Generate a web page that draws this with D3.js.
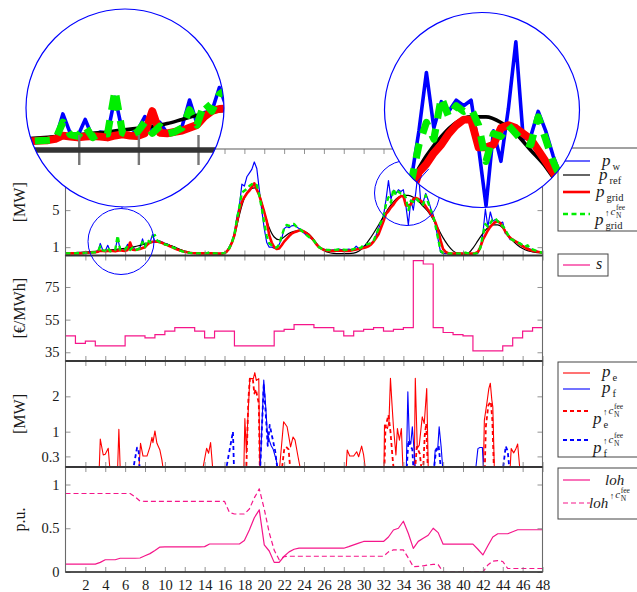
<!DOCTYPE html>
<html><head><meta charset="utf-8">
<script src="https://cdn.jsdelivr.net/npm/d3@7"></script>
<style>
body{margin:0;background:#fff}
svg{display:block}
text{font-family:"Liberation Serif","DejaVu Serif",serif;fill:#1a1a1a}
</style>
</head><body>
<svg id="fig" width="637" height="592"></svg>
<script>
// ---------- data ----------
const hourTicks = d3.range(2, 49, 2);

// wind power p_w [MW], quarter-hour resolution (t = 0, 0.25, ..., 48)
const pW = [
 .35,.33,.35,.34, .33,.36,.34,.35, .38,.40,.42,.45, .45,.48,1.40,.70,
 .60,1.20,.55,.75, .70,2.00,.75,.65, .80,1.30,.75,1.10, .70,.80,.95,1.90,
 1.05,1.45,1.50,2.35, 1.60,1.75,1.65,1.55, 1.40,1.35,1.20,1.10, 1.00,.85,.68,.60,
 .50,.45,.40,.37, .35,.34,.33,.33, .33,.34,.38,.34, .33,.33,.34,.33,
 .40,.60,1.10,1.60, 2.60,4.30,5.50,7.80, 7.60,8.60,9.00,9.40, 10.2,9.50,7.20,5.00,
 3.00,1.50,1.00,1.00, .90,.85,1.30,1.90, 3.00,3.20,3.10,3.30, 3.35,3.20,3.00,2.90,
 2.50,2.30,2.10,1.90, 1.70,1.30,1.00,.85, .80,.70,.75,.68, .70,.72,.78,.74,
 .75,.72,.78,.74, .80,1.10,.85,.95, 1.10,1.20,1.30,1.40, 1.70,2.30,3.00,3.70,
 4.40,6.10,8.20,6.20, 7.15,6.80,7.20,7.00, 7.20,5.50,3.40,6.10, 5.00,6.90,9.30,5.80,
 5.90,6.80,6.10,5.20, 4.50,3.30,1.80,.45, .32,.30,.30,.31, .30,.31,.30,.30,
 .33,.36,.33,.31, .30,.30,.35,.95, 2.45,5.10,3.20,4.80, 3.80,4.00,3.70,3.60,
 3.70,2.50,2.30,1.80, 1.90,1.60,1.50,1.40, 1.20,1.00,.90,.80, .75,.65,.55,.45,
 .40];

// reference power p_ref [MW], half-hour resolution (t = 0, 0.5, ..., 48)
const pRef = [
 .40,.40, .42,.45, .48,.52, .56,.60, .65,.70, .75,.82, .88,.95, 1.05,1.20,
 1.35,1.47, 1.53,1.50, 1.40,1.20, 1.00,.78, .58,.45, .37,.33, .31,.30, .30,.31,
 .40,.90, 2.20,4.50, 6.30,7.20, 7.40,6.70, 4.80,3.10, 2.10,1.80, 2.10,2.50, 2.70,2.80,
 2.70,2.40, 1.80,1.10, .65,.42, .33,.30, .30,.30, .35,.55, 1.00,1.70, 2.50,3.40,
 4.30,5.20, 5.90,6.40, 6.60,6.60, 6.40,6.00, 5.40,4.80, 4.00,3.00, 2.00,1.20, .60,.35,
 .30,.35, .90,1.70, 2.50,3.10, 3.40,3.40, 3.10,2.40, 1.70,1.20, .85,.62, .50,.42,
 .40];

// grid power p_grid [MW], quarter-hour resolution
const pGrid = [
 .33,.33,.33,.33, .33,.33,.33,.34, .38,.40,.42,.44, .45,.50,.62,.58,
 .55,.58,.60,.58, .55,.62,.66,.62, .60,.70,1.50,.72, .70,.75,.80,.90,
 1.00,1.30,1.50,1.58, 1.60,1.58,1.55,1.45, 1.30,1.22,1.10,1.00, .85,.75,.65,.58,
 .50,.45,.40,.37, .35,.34,.33,.33, .33,.33,.33,.33, .33,.32,.30,.30,
 .35,.55,.90,1.50, 2.30,3.70,5.00,5.90, 6.40,6.80,7.10,7.50, 7.90,7.20,6.60,5.70,
 4.80,3.80,2.30,1.50, 1.00,.80,.85,1.20, 1.60,1.90,2.20,2.45, 2.60,2.70,2.80,2.80,
 2.70,2.50,2.30,2.00, 1.70,1.30,1.00,.85, .70,.65,.60,.60, .60,.62,.65,.62,
 .60,.60,.60,.65, .70,.75,.80,.85, .90,1.00,1.10,1.30, 1.60,2.00,2.40,3.10,
 3.80,4.60,4.90,5.30, 5.60,6.00,6.30,6.50, 6.50,5.50,5.50,5.60, 6.20,6.30,6.20,6.00,
 5.80,5.40,5.00,4.60, 4.20,3.60,2.80,1.70, .80,.50,.35,.32, .30,.30,.30,.30,
 .30,.30,.30,.30, .30,.35,.50,1.00, 1.80,2.30,2.80,3.20, 3.50,3.70,3.80,3.60,
 3.20,2.70,2.30,2.00, 1.80,1.65,1.50,1.30, 1.10,.95,.80,.70, .60,.55,.50,.45,
 .40];

// grid power with fee, quarter-hour resolution
const pGridFee = [
 .34,.33,.34,.34, .33,.35,.34,.35, .38,.40,.42,.44, .45,.47,1.10,.65,
 .60,.95,.55,.70, .68,2.25,.72,.62, .75,1.10,.70,.95, .68,.75,.90,1.55,
 1.00,1.80,1.50,2.10, 2.30,1.70,1.55,1.45, 1.30,1.25,1.10,1.00, .90,.80,.65,.55,
 .48,.42,.38,.36, .34,.33,.33,.33, .33,.36,.45,.36, .33,.33,.34,.33,
 .38,.55,.95,1.50, 2.40,4.00,5.40,6.90, 7.10,7.30,7.60,7.80, 7.90,7.70,6.60,5.20,
 3.60,2.20,1.40,1.20, 1.00,.95,1.30,2.20, 3.00,3.40,3.30,3.50, 3.50,3.20,3.00,2.80,
 2.50,2.30,2.10,1.90, 1.70,1.30,1.00,.85, .75,.72,.70,.68, .70,.72,.75,.72,
 .72,.70,.75,.72, .78,.95,.85,.95, 1.25,1.30,1.35,1.45, 1.70,2.30,3.00,3.70,
 4.30,5.60,6.40,5.80, 7.30,6.60,7.00,6.80, 6.90,6.30,5.00,6.00, 5.90,6.30,6.00,5.70,
 5.60,6.60,5.80,5.00, 4.40,3.20,1.90,.60, .35,.30,.30,.31, .30,.31,.30,.30,
 .33,.40,.33,.31, .30,.30,.38,.95, 2.30,3.50,3.20,3.60, 4.00,4.10,3.80,3.40,
 3.30,2.90,2.40,1.90, 1.80,1.60,1.50,1.40, 1.20,1.05,1.20,.85, .75,.65,.55,.45,
 .40];

// spot price s [€/MWh], hourly (hour 0 .. 47)
const price = [
 45.0,40.5,41.8,38.9,38.9,38.9,45.0,45.0,43.8,45.8,47.9,50.1,
 50.1,47.9,43.8,47.9,47.9,38.9,38.9,38.9,38.9,47.9,49.0,52.0,
 52.0,50.1,50.1,47.9,45.0,47.9,49.0,50.1,47.9,49.0,50.1,91.2,
 89.1,50.1,47.1,45.8,45.0,35.8,35.8,35.8,38.9,43.8,47.9,50.1];

// storage powers [hour, MW]
const pE = [[0,0],[3.4,0],[3.5,.79],[3.8,.34],[4.0,.36],[4.3,.53],[4.45,0],
 [5.25,0],[5.37,1.07],[5.5,0],
 [7.4,0],[7.55,.67],[7.8,.31],[8.2,.31],[8.5,.57],[8.7,.84],[8.8,.69],[9.0,1.02],[9.2,.67],[9.5,.48],[9.7,.2],[9.8,0],
 [13.85,0],[14.2,.53],[14.4,.39],[14.6,.69],[14.8,0],
 [17.95,0],[18.05,1.37],[18.2,.4],[18.35,1.37],[18.55,2.5],[18.9,2.5],[19.05,2.67],[19.2,2.45],[19.45,2.5],[19.55,0],
 [21.55,0],[21.95,1.28],[22.3,1.14],[22.65,.57],[22.9,.85],[23.1,.76],[23.4,.29],[23.6,0],
 [28.25,0],[28.35,.48],[28.6,.31],[29.0,.31],[29.3,.43],[29.5,.29],[29.8,.59],[30.0,.34],[30.15,0],
 [32.05,0],[32.1,1.19],[32.4,1.09],[32.55,1.28],[32.7,2.51],[32.85,1.8],[33.0,1.14],[33.25,.34],[33.4,1.09],[33.6,.76],[33.8,1.09],[33.95,0],
 [35.1,0],[35.2,2.51],[35.4,.53],[35.6,.62],[35.9,1.42],[36.1,1.23],[36.35,2.22],[36.5,0],
 [42.05,0],[42.15,1.33],[42.4,1.8],[42.6,2.22],[42.75,2.37],[42.9,1.9],[43.0,1.7],[43.15,0],
 [44.75,0],[44.85,.52],[45.1,.4],[45.3,.5],[45.5,.65],[45.7,0],[48,0]];

const pF = [[0,0],[19.6,0],[19.95,2.46],[20.15,1.7],[20.3,1.0],[20.5,.76],[20.7,.6],[20.9,.5],[21.2,.2],[21.35,0],
 [34.3,0],[34.45,2.13],[34.6,.76],[34.75,.66],[34.9,1.14],[35.05,.57],[35.2,0],
 [37.1,0],[37.2,.48],[37.45,.48],[37.6,1.14],[37.8,.57],[37.95,0],
 [41.3,0],[41.5,.52],[41.7,.55],[41.95,.55],[42.05,0],[48,0]];

const pEFee = [[0,0],[18.2,0],[18.4,1.9],[18.55,2.5],[18.85,2.5],[19.0,2.08],[19.15,2.2],[19.45,1.8],[19.55,0],
 [21.8,0],[22.0,.48],[22.2,.57],[22.45,.5],[22.6,0],
 [32.1,0],[32.2,1.14],[32.5,1.47],[32.7,1.0],[32.9,.3],[33.0,0],
 [35.2,0],[35.35,.57],[35.65,.38],[35.8,0],[36.0,0],[36.15,.9],[36.3,1.23],[36.45,0],
 [42.2,0],[42.3,1.14],[42.55,1.75],[42.8,1.85],[42.95,1.33],[43.1,0],[48,0]];

const pFFee = [[0,0],[6.85,0],[7.2,.55],[7.35,.5],[7.45,0],
 [16.2,0],[16.85,1.0],[16.95,0],
 [19.6,0],[19.95,2.35],[20.15,1.5],[20.35,.6],[20.55,1.19],[20.8,.85],[21.1,.45],[21.3,0],
 [34.35,0],[34.5,.75],[34.7,.6],[34.9,.5],[35.0,0],
 [37.1,0],[37.3,.5],[37.55,.6],[37.75,0],
 [44.05,0],[44.3,.59],[44.5,.45],[44.65,0],[48,0]];

// level of health [p.u.], half-hour resolution
const loh = [
 .09,.09, .09,.09, .09,.09, .09,.11, .14,.14, .14,.157, .157,.157, .157,.16,
 .185,.21, .245,.285, .287,.287, .287,.287, .287,.287, .287,.287, .29,.32, .32,.32,
 .32,.32, .32,.32, .36,.48, .62,.71, .31,.24, .11,.11, .18,.23, .26,.272,
 .272,.272, .272,.272, .272,.272, .272,.272, .272,.29, .31,.33, .349,.349, .349,.349,
 .349,.40, .48,.50, .58,.44, .27,.35, .385,.42, .50,.45, .318,.318, .318,.318,
 .318,.318, .318,.26, .195,.30, .40,.437, .437,.437, .46,.483, .483,.483, .483,.483,
 .483];
const lohFee = [
 .897,.897, .897,.897, .897,.897, .897,.897, .897,.897, .897,.897, .897,.897, .86,.81,
 .808,.808, .808,.808, .808,.808, .808,.808, .808,.808, .808,.808, .808,.808, .808,.808,
 .808,.68, .663,.663, .663,.72, .847,.95, .72,.45, .25,.14, .176,.18, .18,.18,
 .18,.18, .18,.18, .18,.18, .18,.18, .18,.18, .18,.18, .18,.18, .18,.18,
 .18,.23, .253,.253, .253,.16, .061,.065, .07,.08, .088,.085, 0,0, 0,0,
 0,0, 0,0, 0,.08, .125,.13, .12,.04, .04,.04, .04,.04, .04,.04,
 .04];

// ---------- layout ----------
const svg = d3.select("#fig");
const defs = svg.append("defs");
const chart = svg.append("g").attr("id", "chart");
chart.append("rect").attr("width", 637).attr("height", 592).attr("fill", "#fff");

const x = d3.scaleLinear().domain([0, 48]).range([65.5, 542.5]);
const X0 = x(0), X1 = x(48);

const panels = [
  {top: 149, bottom: 255.5, domain: [0.1, 11.6], ticks: [1, 5], label: "[MW]"},
  {top: 255.5, bottom: 361, domain: [29.65, 94.3], ticks: [35, 55, 75], label: "[€/MWh]"},
  {top: 361, bottom: 467, domain: [0, 3], ticks: [0.3, 1, 2], label: "[MW]"},
  {top: 467, bottom: 572, domain: [0, 1.2], ticks: [0, 0.5, 1], label: "p.u."}
];

const COL = {blue: "#0000ff", red: "#ff0000", green: "#00ee00", mag: "#f5168a"};

panels.forEach((p, i) => {
  p.y = d3.scaleLinear().domain(p.domain).range([p.bottom, p.top]);
  defs.append("clipPath").attr("id", "clip" + i)
    .append("rect").attr("x", X0).attr("y", p.top).attr("width", X1 - X0).attr("height", p.bottom - p.top);
  p.g = chart.append("g");
  p.data = p.g.append("g").attr("clip-path", `url(#clip${i})`);
});

function styleAxis(g) {
  g.select(".domain").remove();
  g.selectAll(".tick line").attr("stroke", "#777").attr("stroke-width", 0.8);
  g.selectAll(".tick text").attr("font-family", "Liberation Serif, serif").attr("font-size", 14.5).attr("fill", "#1a1a1a");
}

panels.forEach((p, i) => {
  const last = i === panels.length - 1;
  p.g.append("g").attr("transform", `translate(0,${p.bottom})`)
    .call(d3.axisBottom(x).tickValues(hourTicks).tickSize(-5).tickPadding(8)
      .tickFormat(last ? d3.format("d") : () => ""))
    .call(styleAxis);
  p.g.append("g").attr("transform", `translate(0,${p.top})`)
    .call(d3.axisTop(x).tickValues(hourTicks).tickSize(-5).tickFormat(() => ""))
    .call(styleAxis);
  p.g.append("g").attr("transform", `translate(${X0},0)`)
    .call(d3.axisLeft(p.y).tickValues(p.ticks).tickSize(-5).tickPadding(6).tickFormat(d => String(d)))
    .call(styleAxis);
  p.g.append("g").attr("transform", `translate(${X1},0)`)
    .call(d3.axisRight(p.y).tickValues(p.ticks).tickSize(-5).tickFormat(() => ""))
    .call(styleAxis);
  p.g.append("text")
    .attr("transform", `translate(25,${(p.top + p.bottom) / 2}) rotate(-90)`)
    .attr("text-anchor", "middle").attr("font-size", 16).text(p.label);
});

// ---------- series ----------
const qT = i => i / 4, hT = i => i / 2;
function drawSeries(p, vals, tOf, color, width, dash, curve) {
  const line = d3.line().x((d, i) => x(tOf(i))).y(d => p.y(d)).curve(curve || d3.curveLinear);
  p.data.append("path").datum(vals).attr("d", line)
    .attr("fill", "none").attr("stroke", color).attr("stroke-width", width)
    .attr("stroke-linejoin", "round").attr("stroke-dasharray", dash || null);
}
function drawPairs(p, pts, color, width, dash) {
  const line = d3.line().x(d => x(d[0])).y(d => p.y(d[1]));
  p.data.append("path").datum(pts).attr("d", line)
    .attr("fill", "none").attr("stroke", color).attr("stroke-width", width)
    .attr("stroke-linejoin", "round").attr("stroke-dasharray", dash || null);
}

const P1 = panels[0], P2 = panels[1], P3 = panels[2], P4 = panels[3];
drawSeries(P1, pW, qT, COL.blue, 1.2);
drawSeries(P1, pRef, hT, "#000", 1.2, null, d3.curveMonotoneX);
drawSeries(P1, pGrid, qT, COL.red, 2.6);
drawSeries(P1, pGridFee, qT, COL.green, 2.4, "5,3.5");

const priceSteps = price.map((v, h) => [h, v]).concat([[48, price[price.length - 1]]]);
P2.data.append("path").datum(priceSteps)
  .attr("d", d3.line().x(d => x(d[0])).y(d => P2.y(d[1])).curve(d3.curveStepAfter))
  .attr("fill", "none").attr("stroke", COL.mag).attr("stroke-width", 1.2);

drawPairs(P3, pE, COL.red, 1.1);
drawPairs(P3, pF, COL.blue, 1.1);
drawPairs(P3, pEFee, COL.red, 1.8, "4,3");
drawPairs(P3, pFFee, COL.blue, 1.8, "4,3");

drawSeries(P4, loh, hT, COL.mag, 1.2);
drawSeries(P4, lohFee, hT, COL.mag, 1.2, "5,3");

// panel frames: light sides, dark horizontal rules
panels.forEach(p => {
  p.g.append("rect").attr("x", X0).attr("y", p.top).attr("width", X1 - X0).attr("height", p.bottom - p.top)
    .attr("fill", "none").attr("stroke", "#6a6a6a").attr("stroke-width", 1.1);
});
panels.forEach((p, i) => {
  [p.top, p.bottom].forEach((yy, k) => {
    if (i === 0 && k === 0) return;
    chart.append("line").attr("x1", X0).attr("x2", X1).attr("y1", yy).attr("y2", yy)
      .attr("stroke", "#333").attr("stroke-width", 1.6);
  });
});

// ---------- legends ----------
const leg = svg.append("g");
function box(x0, y0, x1, y1) {
  leg.append("rect").attr("x", x0).attr("y", y0).attr("width", x1 - x0).attr("height", y1 - y0)
    .attr("fill", "#fff").attr("stroke", "#444").attr("stroke-width", 1);
}
function sample(y, color, width, dash) {
  leg.append("line").attr("x1", 563).attr("x2", 590).attr("y1", y).attr("y2", y)
    .attr("stroke", color).attr("stroke-width", width).attr("stroke-dasharray", dash || null);
}
function txt(xp, yp, s, size, italic) {
  return leg.append("text").attr("x", xp).attr("y", yp).attr("font-size", size)
    .attr("font-style", italic ? "italic" : "normal").text(s);
}
// symbol with an optional subscript and an optional "↑ c_N^fee" superscript
function symbol(xp, base, name, size, sub, fee) {
  const t = txt(xp, base, name, size, true);
  const w = t.node().getComputedTextLength();
  const xs = xp + w + 1;
  if (sub) txt(xs + 1, base + 4, sub, 10.5, false);
  if (fee) {
    txt(xs + 0.5, base - 9, "↑", 9, false);
    txt(xs + 6, base - 10, "c", 11, true);
    txt(xs + 11.5, base - 15, "fee", 7.5, false);
    txt(xs + 11.5, base - 7.5, "N", 7.5, false);
  }
}

box(558, 148, 645, 231);
sample(161, COL.blue, 1.2);
symbol(602, 166, "p", 17, "w");
sample(175, "#000", 1.2);
symbol(599, 180, "p", 17, "ref");
sample(192, COL.red, 2.6);
symbol(596, 197, "p", 17, "grid");
sample(214, COL.green, 2.4, "5,3.5");
symbol(595, 225, "p", 17, "grid", true);

box(558, 254, 608, 276);
sample(265, COL.mag, 1.2);
txt(596, 269, "s", 16, true);

box(558, 362, 645, 457);
sample(373, COL.red, 1.1);
symbol(602, 377, "p", 17, "e");
sample(389, COL.blue, 1.1);
symbol(602, 393, "p", 17, "f");
sample(411, COL.red, 1.8, "4,3");
symbol(593, 424, "p", 17, "e", true);
sample(440, COL.blue, 1.8, "4,3");
symbol(593, 453, "p", 17, "f", true);

box(558, 468, 645, 519);
sample(480, COL.mag, 1.2);
txt(605, 485, "loh", 15, true);
sample(503, COL.mag, 1.2, "5,3");
symbol(589, 508, "loh", 15, null, true);

// ---------- magnifying circles ----------
const MAG = 3;
const spies = [
  {sx: 121, sy: 241.5, r: 33, bx: 125, by: 108},
  {sx: 407, sy: 193, r: 32.5, bx: 482, by: 110}
];
spies.forEach(s => {
  svg.append("circle").attr("cx", s.sx).attr("cy", s.sy).attr("r", s.r)
    .attr("fill", "none").attr("stroke", COL.blue).attr("stroke-width", 1);
});
spies.forEach((s, i) => {
  const R = s.r * MAG;
  defs.append("clipPath").attr("id", "spy" + i)
    .append("circle").attr("cx", s.bx).attr("cy", s.by).attr("r", R);
  svg.append("circle").attr("cx", s.bx).attr("cy", s.by).attr("r", R).attr("fill", "#fff");
  svg.append("g").attr("clip-path", `url(#spy${i})`)
    .append("use").attr("href", "#chart")
    .attr("transform", `translate(${s.bx - MAG * s.sx},${s.by - MAG * s.sy}) scale(${MAG})`);
  svg.append("circle").attr("cx", s.bx).attr("cy", s.by).attr("r", R)
    .attr("fill", "none").attr("stroke", COL.blue).attr("stroke-width", 1.2);
  // connector between the two circles
  const dx = s.bx - s.sx, dy = s.by - s.sy, d = Math.hypot(dx, dy);
  const ux = dx / d, uy = dy / d;
  svg.append("line")
    .attr("x1", s.sx + ux * s.r).attr("y1", s.sy + uy * s.r)
    .attr("x2", s.bx - ux * R).attr("y2", s.by - uy * R)
    .attr("stroke", COL.blue).attr("stroke-width", 1);
});
</script>
</body></html>
